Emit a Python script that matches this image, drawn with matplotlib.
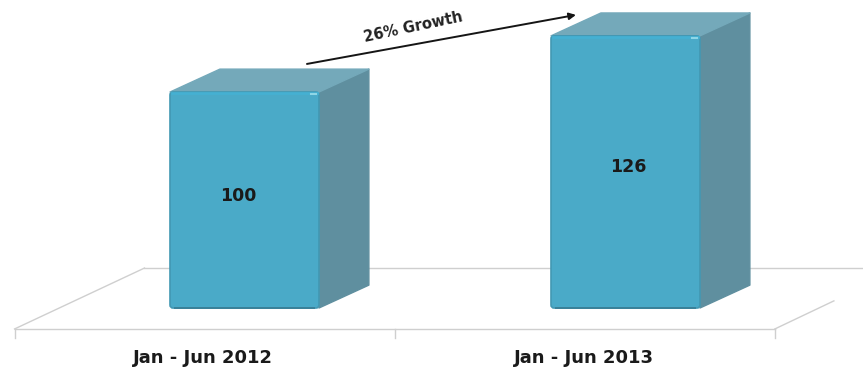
import matplotlib
matplotlib.use("Agg")
import matplotlib.pyplot as plt
from matplotlib.patches import FancyBboxPatch, Polygon

periods = ["Jan - Jun 2012", "Jan - Jun 2013"]
index_values = [100, 126]
growth_label = "26% Growth"

BAR_WIDTH = 0.391
DEPTH_X = 0.131
DEPTH_Y = 10.6

FRONT = "#4aaac8"
FRONT_EDGE = "#4298b3"
TOP = "#74a9ba"
SIDE = "#5f8f9f"
FLOOR = "#cfcfcf"


def draw_bar(ax, x, value):
    left = x - BAR_WIDTH / 2
    right = x + BAR_WIDTH / 2
    # side and top faces go behind the front face
    side = [(right, 0), (right + DEPTH_X, DEPTH_Y), (right + DEPTH_X, value + DEPTH_Y), (right, value)]
    top = [(left, value), (left + DEPTH_X, value + DEPTH_Y), (right + DEPTH_X, value + DEPTH_Y), (right, value)]
    ax.add_patch(Polygon(side, closed=True, facecolor=SIDE, edgecolor=SIDE, linewidth=1, joinstyle="round", zorder=3))
    ax.add_patch(Polygon(top, closed=True, facecolor=TOP, edgecolor=TOP, linewidth=1, joinstyle="round", zorder=3))
    # mutation_aspect keeps the corners round, y units are much smaller than x units
    pad = 0.008
    ax.add_patch(FancyBboxPatch((left + pad, pad * 176), BAR_WIDTH - 2 * pad, value - 2 * pad * 176,
                                boxstyle="round,pad=0.008", mutation_aspect=176,
                                facecolor=FRONT, edgecolor=FRONT_EDGE, linewidth=1.2, zorder=4))
    # darker lower rim and a small glint on the top right corner
    ax.plot([left + 0.012, right - 0.012], [0.2, 0.2], color="#3a8199", lw=1.4, zorder=5)
    ax.plot([left + 0.004, right - 0.004], [value - 0.6, value - 0.6], color="#45b0d2", lw=2, zorder=5)
    ax.plot([right - 0.022, right - 0.008], [value - 0.8, value - 0.8], color="#8fd6e6", lw=1.5, zorder=6)


def draw_floor(ax):
    front_y = -9.7
    back_y = 18.5
    x0, x1, x2 = -0.6035, 0.395, 1.392
    shift = 0.341
    ax.plot([x0, x2], [front_y, front_y], color=FLOOR, lw=1, zorder=1)
    ax.plot([x0 + shift, 1.63], [back_y, back_y], color=FLOOR, lw=1, zorder=1)
    ax.plot([x0, x0 + shift], [front_y, back_y], color=FLOOR, lw=1, zorder=1)
    ax.plot([x2, x2 + 0.155], [front_y, front_y + 13], color=FLOOR, lw=1, zorder=1)
    for tick in (x0, x1, x2):
        ax.plot([tick, tick], [front_y, front_y - 4.2], color=FLOOR, lw=1, zorder=1)


fig = plt.figure(figsize=(8.63, 3.7), dpi=100)
ax = fig.add_axes([0, 0, 1, 1])
ax.set_xlim(-0.6417, 1.6234)
ax.set_ylim(-28.7, 142.6)
ax.axis("off")

draw_floor(ax)

label_shift = [-0.017, 0.008]
for i, value in enumerate(index_values):
    draw_bar(ax, i, value)
    ax.text(i + label_shift[i], value * 0.517, str(value), ha="center", va="center",
            fontsize=12.5, fontweight="bold", color="#1a1a1a", zorder=7)
    ax.text(i - 0.109, -23, periods[i], ha="center", va="center", fontsize=13,
            fontweight="bold", color="#1a1a1a")

ax.annotate("", xy=(0.87, 135.7), xytext=(0.164, 113),
            arrowprops=dict(arrowstyle="-|>", color="#151515", lw=1.4, mutation_scale=10, shrinkA=0, shrinkB=0))
ax.text(0.443, 130, growth_label, rotation=12, ha="center", va="center", fontsize=10.5,
        fontweight="bold", color="#222222")

fig.savefig("out.png", dpi=100)
